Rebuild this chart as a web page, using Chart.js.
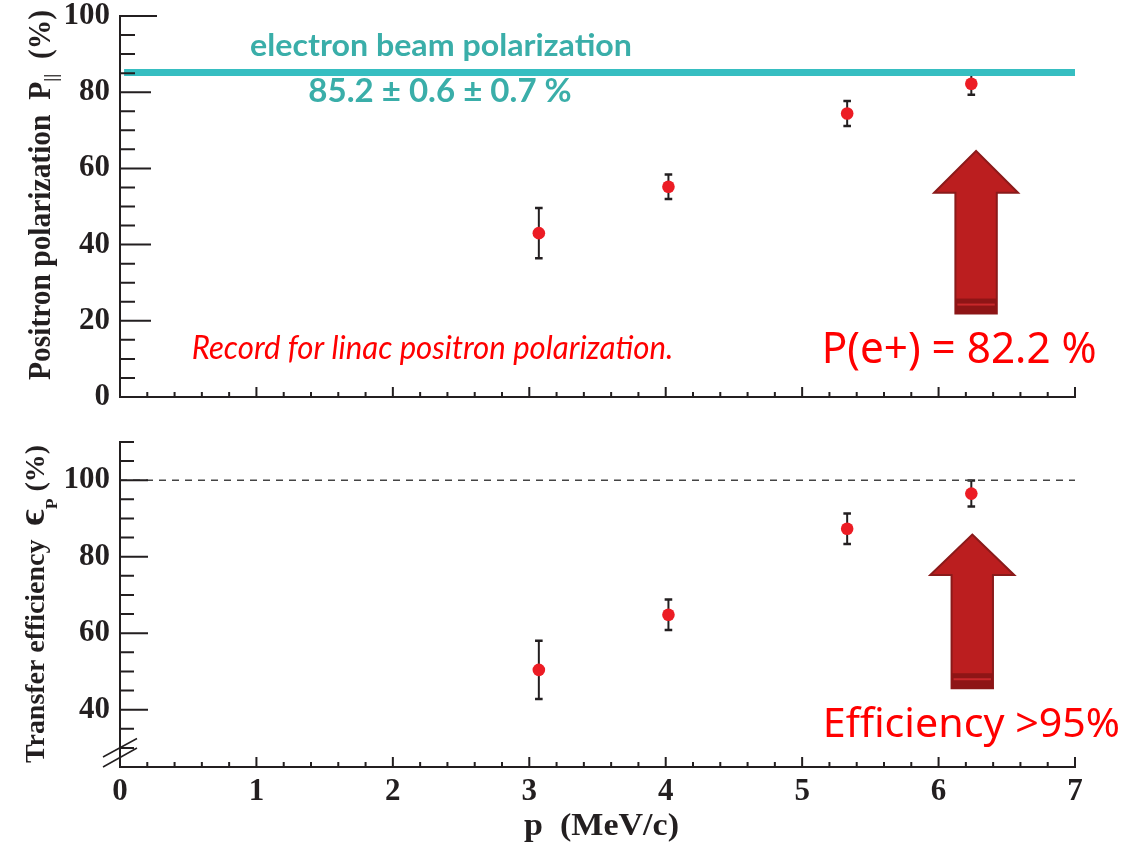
<!DOCTYPE html>
<html>
<head>
<meta charset="utf-8">
<script src="https://cdn.jsdelivr.net/npm/chart.js@4.4.1/dist/chart.umd.min.js"></script>
<style>
  body { margin: 0; background: #fff; }
  #wrap { position: relative; width: 1140px; height: 845px; }
  #top, #bottom { position: absolute; left: 0; }
  #top { top: 0; }
  #bottom { top: 420px; }
</style>
</head>
<body>
<div id="wrap">
  <canvas id="top" width="1140" height="420"></canvas>
  <canvas id="bottom" width="1140" height="425"></canvas>
</div>
<script>
// --- data ---
const momentum = [3.07, 4.02, 5.33, 6.24];          // p (MeV/c)
const polarization = [43.0, 55.2, 74.4, 82.2];      // P|| (%)
const polarizationErr = [6.6, 3.2, 3.3, 2.9];
const efficiency = [50.4, 64.8, 87.3, 96.5];        // transfer efficiency (%)
const efficiencyErr = [7.6, 4.0, 4.0, 3.4];
const beamPolarization = 85.2;
const fullTransfer = 100;

const xTickLabels = [0, 1, 2, 3, 4, 5, 6, 7];
const polTickLabels = [0, 20, 40, 60, 80, 100];
const effTickLabels = [40, 60, 80, 100];

// --- styles ---
const axisColor = "#231f20";
const pointColor = "#ec1c24";
const tealLine = "#36bec1";
const tealText = "#3aaea9";
const redText = "#ff0000";
const serif = "'Liberation Serif', 'Times New Roman', serif";

const tickFont = { family: serif, weight: "bold", size: 31, lineHeight: 1 };

function px(chart, v) { return chart.scales.x.getPixelForValue(v); }
function py(chart, v) { return chart.scales.y.getPixelForValue(v); }

// error bars drawn under the markers
function errorBarPlugin(xs, ys, errs) {
    return {
        id: "errorBars",
        beforeDatasetsDraw(chart) {
            const ctx = chart.ctx;
            ctx.save();
            ctx.strokeStyle = axisColor;
            ys.forEach((v, i) => {
                const x = px(chart, xs[i]);
                const top = py(chart, v + errs[i]);
                const bot = py(chart, v - errs[i]);
                ctx.lineWidth = 2;
                ctx.beginPath();
                ctx.moveTo(x, top); ctx.lineTo(x, bot);
                ctx.stroke();
                ctx.lineWidth = 2.5;
                ctx.beginPath();
                ctx.moveTo(x - 3.8, top); ctx.lineTo(x + 3.8, top);
                ctx.moveTo(x - 3.8, bot); ctx.lineTo(x + 3.8, bot);
                ctx.stroke();
            });
            ctx.restore();
        }
    };
}

// ROOT style ticks pointing into the frame
function innerTicksPlugin(cfg) {
    return {
        id: "innerTicks",
        afterDraw(chart) {
            const { ctx, chartArea: a, scales: { x, y } } = chart;
            ctx.save();
            ctx.strokeStyle = axisColor;
            ctx.lineWidth = 2;
            ctx.beginPath();
            for (let i = Math.ceil(y.min / 5); i * 5 <= y.max; i++) {
                const v = i * 5;
                const yy = y.getPixelForValue(v);
                let len = v % 20 === 0 ? cfg.yMajor : cfg.yMinor;
                if (v === y.max && cfg.yTop) len = cfg.yTop;
                ctx.moveTo(a.left, yy); ctx.lineTo(a.left + len, yy);
            }
            for (let i = 1; i * 0.2 <= x.max + 1e-9; i++) {
                const xx = x.getPixelForValue(i * 0.2);
                const len = i % 5 === 0 ? cfg.xMajor : cfg.xMinor;
                ctx.moveTo(xx, a.bottom); ctx.lineTo(xx, a.bottom - len);
            }
            ctx.stroke();
            if (cfg.axisBreak) {
                ctx.lineWidth = 1.5;
                ctx.beginPath();
                ctx.moveTo(a.left - 17, a.bottom); ctx.lineTo(a.left + 17, a.bottom - 19);
                ctx.moveTo(a.left - 17, a.bottom - 10); ctx.lineTo(a.left + 17, a.bottom - 28.5);
                ctx.stroke();
            }
            ctx.restore();
        }
    };
}

// big block arrow, placed in data units
function arrowPlugin(arrow) {
    return {
        id: "blockArrow",
        afterDatasetsDraw(chart) {
            const ctx = chart.ctx;
            const cx = px(chart, arrow.x);
            const tip = py(chart, arrow.tip);
            const neck = py(chart, arrow.neck);
            const base = py(chart, arrow.base);
            const hw = 42, sw = 20.7;
            ctx.save();
            ctx.beginPath();
            ctx.moveTo(cx, tip);
            ctx.lineTo(cx + hw, neck);
            ctx.lineTo(cx + sw, neck);
            ctx.lineTo(cx + sw, base);
            ctx.lineTo(cx - sw, base);
            ctx.lineTo(cx - sw, neck);
            ctx.lineTo(cx - hw, neck);
            ctx.closePath();
            ctx.fillStyle = "#bb1e1f";
            ctx.fill();
            ctx.lineWidth = 2;
            ctx.strokeStyle = "#8a1a1a";
            ctx.lineJoin = "miter";
            ctx.stroke();
            ctx.fillStyle = "#8e1516";
            ctx.fillRect(cx - sw, base - 15, 2 * sw, 15);
            ctx.fillStyle = "#c8282b";
            ctx.fillRect(cx - sw + 2, base - 10, 2 * sw - 4, 2);
            ctx.restore();
        }
    };
}

// text squeezed to a given span
function drawFitted(ctx, text, font, x0, x1, base, color) {
    ctx.save();
    ctx.font = font;
    const w = ctx.measureText(text).width;
    ctx.translate(x0, base);
    ctx.scale((x1 - x0) / w, 1);
    ctx.fillStyle = color;
    ctx.textAlign = "left";
    ctx.textBaseline = "alphabetic";
    ctx.fillText(text, 0, 0);
    ctx.restore();
}

// annotations anchored in data units
function textPlugin(items) {
    return {
        id: "labels",
        afterDatasetsDraw(chart) {
            items.forEach(t => drawFitted(chart.ctx, t.text, t.font,
                px(chart, t.x0), px(chart, t.x1), py(chart, t.y), t.color));
        }
    };
}

// rotated axis title made of pieces (main text, subscript, unit)
function yTitlePlugin(parts, baseX, yBottom, yTop) {
    return {
        id: "yTitle",
        afterDraw(chart) {
            const ctx = chart.ctx;
            ctx.save();
            let total = 0;
            parts.forEach(p => { ctx.font = p.font; p.w = ctx.measureText(p.text).width; total += p.w; });
            ctx.translate(baseX, yBottom);
            ctx.rotate(-Math.PI / 2);
            ctx.scale((yBottom - yTop) / total, 1);
            ctx.fillStyle = axisColor;
            ctx.textBaseline = "alphabetic";
            let pos = 0;
            parts.forEach(p => {
                ctx.font = p.font;
                ctx.fillText(p.text, pos, p.dy || 0);
                pos += p.w;
            });
            ctx.restore();
        }
    };
}

function xTitlePlugin(text, x0, x1, base) {
    return {
        id: "xTitle",
        afterDraw(chart) {
            drawFitted(chart.ctx, text, "bold 31px " + serif, x0, x1, base, axisColor);
        }
    };
}

function baseScales(yMin, yMax, yTicks, xHeight, showX) {
    return {
        x: {
            type: "linear", min: 0, max: 7,
            afterBuildTicks: s => { s.ticks = xTickLabels.map(v => ({ value: v })); },
            afterFit: s => { s.height = xHeight; s.paddingLeft = 0; s.paddingRight = 0; },
            grid: { display: false, drawTicks: false },
            border: { display: true, color: axisColor, width: 2 },
            ticks: { display: showX, font: tickFont, color: axisColor, padding: 9, maxRotation: 0 }
        },
        y: {
            type: "linear", min: yMin, max: yMax,
            afterBuildTicks: s => { s.ticks = yTicks.map(v => ({ value: v })); },
            afterFit: s => { s.width = 120; s.paddingTop = 0; s.paddingBottom = 0; },
            grid: { display: false, drawTicks: false },
            border: { display: true, color: axisColor, width: 2 },
            ticks: { font: tickFont, color: axisColor, padding: 10 }
        }
    };
}

const common = {
    responsive: false,
    animation: false,
    events: [],
    plugins: { legend: { display: false }, tooltip: { enabled: false } }
};

// ============ top panel: positron polarization ============
new Chart(document.getElementById("top"), {
    type: "scatter",
    data: {
        datasets: [
            {
                type: "line",
                data: [{ x: 0.03, y: beamPolarization }, { x: 7, y: beamPolarization }],
                borderColor: tealLine, borderWidth: 7, pointRadius: 0, borderCapStyle: "butt"
            },
            {
                data: momentum.map((m, i) => ({ x: m, y: polarization[i] })),
                backgroundColor: pointColor, borderWidth: 0, pointRadius: 6.3
            }
        ]
    },
    options: {
        ...common,
        layout: { padding: { top: 16, right: 65, left: 0, bottom: 0 } },
        scales: baseScales(0, 100, polTickLabels, 23, false)
    },
    plugins: [
        errorBarPlugin(momentum, polarization, polarizationErr),
        innerTicksPlugin({ yMajor: 31, yMinor: 15, yTop: 37, xMajor: 10, xMinor: 5 }),
        arrowPlugin({ x: 6.275, tip: 64.6, neck: 53.6, base: 21.9 }),
        textPlugin([
            { text: "electron beam polarization", font: "bold 31px Lato, 'Noto Sans', sans-serif",
              x0: 0.953, x1: 3.753, y: 89.4, color: tealText },
            { text: "85.2 \u00b1 0.6 \u00b1 0.7 %", font: "bold 32px Lato, 'Noto Sans', sans-serif",
              x0: 1.380, x1: 3.311, y: 77.4, color: tealText },
            { text: "Record for linac positron polarization.", font: "italic 32px Lato, 'Noto Sans', sans-serif",
              x0: 0.526, x1: 4.056, y: 10.1, color: redText },
            { text: "P(e+) = 82.2 %", font: "43px 'Noto Sans', 'Open Sans', sans-serif",
              x0: 5.143, x1: 7.159, y: 8.9, color: redText }
        ]),
        yTitlePlugin([
            { text: "Positron polarization  P", font: "bold 31px " + serif },
            { text: "||", font: "bold 19px " + serif, dy: 7 },
            { text: "  (%)", font: "bold 31px " + serif }
        ], 50, 380, 10)
    ]
});

// ============ bottom panel: transfer efficiency ============
new Chart(document.getElementById("bottom"), {
    type: "scatter",
    data: {
        datasets: [
            {
                type: "line",
                data: [{ x: 0, y: fullTransfer }, { x: 7, y: fullTransfer }],
                borderColor: "#444", borderWidth: 1.5, borderDash: [7, 6], pointRadius: 0
            },
            {
                data: momentum.map((m, i) => ({ x: m, y: efficiency[i] })),
                backgroundColor: pointColor, borderWidth: 0, pointRadius: 6.3
            }
        ]
    },
    options: {
        ...common,
        layout: { padding: { top: 22, right: 65, left: 0, bottom: 0 } },
        scales: baseScales(25, 110, effTickLabels, 78, true)
    },
    plugins: [
        errorBarPlugin(momentum, efficiency, efficiencyErr),
        innerTicksPlugin({ yMajor: 28, yMinor: 14, xMajor: 10, xMinor: 5, axisBreak: true }),
        arrowPlugin({ x: 6.247, tip: 85.8, neck: 75.2, base: 45.6 }),
        textPlugin([
            { text: "Efficiency >95%", font: "40px 'Noto Sans', 'Open Sans', sans-serif",
              x0: 5.151, x1: 7.33, y: 32.85, color: redText }
        ]),
        yTitlePlugin([
            { text: "Transfer efficiency  ", font: "bold 27px " + serif },
            { text: "\u03f5", font: "bold 38px " + serif },
            { text: "P", font: "bold 17px " + serif, dy: 13 },
            { text: " (%)", font: "bold 27px " + serif }
        ], 44, 343, 25),
        xTitlePlugin("p  (MeV/c)", 524, 679, 415)
    ]
});
</script>
</body>
</html>
